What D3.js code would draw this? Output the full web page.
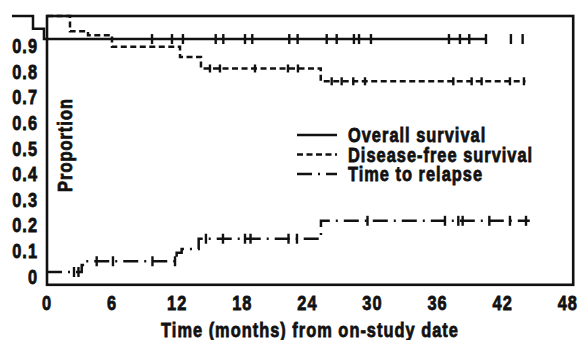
<!DOCTYPE html>
<html>
<head>
<meta charset="utf-8">
<script src="https://cdn.jsdelivr.net/npm/d3@7"></script>
<style>
  body { margin: 0; background: #fff; }
  svg text { font-family: "Liberation Sans", Arial, sans-serif; font-weight: bold; font-size: 21px; fill: #111; stroke: #111; stroke-width: 0.8px; letter-spacing: 1.3px; }
</style>
</head>
<body>
<svg id="chart" width="579" height="340"></svg>
<script>
  var xTicks = [0, 6, 12, 18, 24, 30, 36, 42, 48];
  var yTicks = [0, 0.1, 0.2, 0.3, 0.4, 0.5, 0.6, 0.7, 0.8, 0.9];

  // step curves: [time, proportion]
  var overallSteps = [[-3.23, 1], [-1.29, 0.95], [-0.28, 0.91]];
  var overallEnd = 40.46;
  var overallCensor = [9.68, 11.52, 12.53, 15.55, 16.25, 18.25, 18.92, 22.33, 23.1, 25.78, 26.7,
    28.29, 28.76, 29.86, 37.05, 38.06, 38.92, 40.46, 42.76, 43.84];

  var dfsSteps = [[0, 1], [2.12, 0.94], [3.78, 0.925], [5.99, 0.88], [12.26, 0.84], [14.19, 0.795], [25.23, 0.745]];
  var dfsEnd = 44.1;
  var dfsCensor = [15.02, 15.94, 19.17, 22.21, 23.13, 26.24, 27.16, 28.23, 29.31,
    37.45, 39.14, 40.06, 42.67, 43.96];

  var relapseSteps = [[0, 0], [3.2, 0.027], [3.5, 0.042], [11.95, 0.075], [12.41, 0.09], [13.98, 0.13], [25.25, 0.2]];
  var relapseEnd = 44.5;
  var relapseCensor = [2.49, 2.9, 4.58, 6.08, 9.72, 11.8, 14.65, 16.22, 18.25, 18.76, 22.26, 23.04,
    29.54, 36.68, 37.91, 38.31, 40.77, 42.67, 44.15];

  var legendLabels = ['Overall survival', 'Disease-free survival', 'Time to relapse'];

  var svg = d3.select('#chart');
  var x = d3.scaleLinear().domain([0, 48.5]).range([47, 573.2]);
  var y = d3.scaleLinear().domain([-0.05, 1]).range([284.8, 16]);
  var squeeze = 0.78;

  function levelAt(steps, t) {
    var v = steps[0][1];
    steps.forEach(function(s) { if (s[0] <= t) v = s[1]; });
    return v;
  }

  // narrow text: place at (tx, ty) and compress horizontally
  function narrow(sel, tx, ty, rot) {
    sel.attr('transform', function(d, i) {
      var px = typeof tx === 'function' ? tx(d, i) : tx;
      var py = typeof ty === 'function' ? ty(d, i) : ty;
      return 'translate(' + px + ',' + py + ')' + (rot ? ' rotate(' + rot + ')' : '') + ' scale(' + squeeze + ',1)';
    });
    return sel;
  }

  var line = d3.line()
    .x(function(d) { return x(d[0]); })
    .y(function(d) { return y(d[1]); })
    .curve(d3.curveStepAfter);

  var series = [
    { steps: overallSteps, end: overallEnd, censor: overallCensor, dash: null, tick: 5 },
    { steps: dfsSteps, end: dfsEnd, censor: dfsCensor, dash: '6,3.5', tick: 4 },
    { steps: relapseSteps, end: relapseEnd, censor: relapseCensor, dash: '15,6,2,6', tick: 5 }
  ];

  // frame
  svg.append('rect')
    .attr('x', x(0)).attr('y', y(1))
    .attr('width', x(48.5) - x(0)).attr('height', y(-0.05) - y(1))
    .attr('fill', 'none').attr('stroke', '#111').attr('stroke-width', 2.6);

  series.forEach(function(s) {
    var pts = s.steps.concat([[s.end, s.steps[s.steps.length - 1][1]]]);
    svg.append('path')
      .attr('d', line(pts))
      .attr('fill', 'none')
      .attr('stroke', '#111')
      .attr('stroke-width', 2.5)
      .attr('stroke-dasharray', s.dash);
    svg.selectAll(null)
      .data(s.censor)
      .enter()
      .append('line')
      .attr('x1', function(d) { return x(d); })
      .attr('x2', function(d) { return x(d); })
      .attr('y1', function(d) { return y(levelAt(s.steps, d)) - s.tick; })
      .attr('y2', function(d) { return y(levelAt(s.steps, d)) + s.tick; })
      .attr('stroke', '#111')
      .attr('stroke-width', 2.4);
  });

  // axis labels
  svg.selectAll('text.xtick')
    .data(xTicks)
    .enter()
    .append('text')
    .attr('class', 'xtick')
    .attr('text-anchor', 'middle')
    .call(narrow, function(d) { return x(d); }, 310)
    .text(function(d) { return d; });

  svg.selectAll('text.ytick')
    .data(yTicks)
    .enter()
    .append('text')
    .attr('class', 'ytick')
    .attr('text-anchor', 'end')
    .call(narrow, 38, function(d) { return y(d) + 11.5; })
    .text(function(d) { return d === 0 ? '0' : d3.format('.1f')(d); });

  svg.append('text')
    .attr('text-anchor', 'middle')
    .call(narrow, 310, 337)
    .text('Time (months) from on-study date');

  svg.append('text')
    .attr('text-anchor', 'middle')
    .call(narrow, 72, 145, -90)
    .text('Proportion');

  // legend
  var legend = svg.append('g');
  legend.selectAll('line')
    .data(series)
    .enter()
    .append('line')
    .attr('x1', 297).attr('x2', 337)
    .attr('y1', function(d, i) { return 135 + i * 19.5; })
    .attr('y2', function(d, i) { return 135 + i * 19.5; })
    .attr('stroke', '#111')
    .attr('stroke-width', 2.5)
    .attr('stroke-dasharray', function(d) { return d.dash; });
  legend.selectAll('text')
    .data(legendLabels)
    .enter()
    .append('text')
    .call(narrow, 348, function(d, i) { return 142 + i * 19.5; })
    .text(function(d) { return d; });
</script>
</body>
</html>
